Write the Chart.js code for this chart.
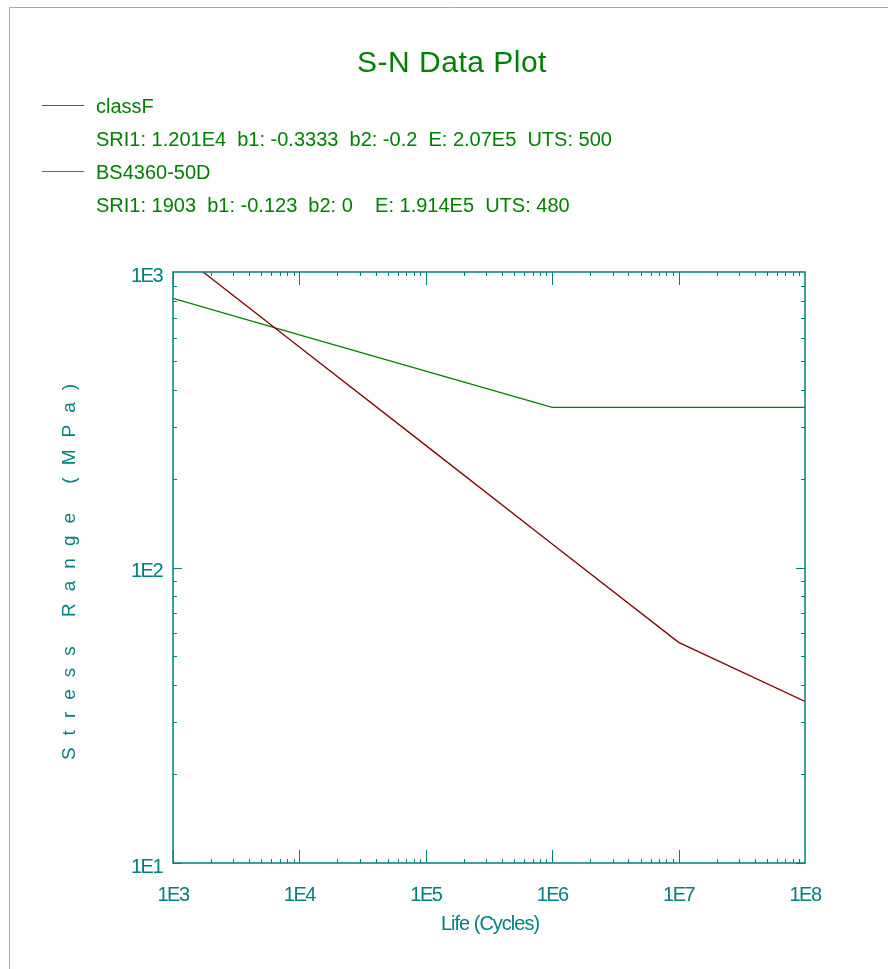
<!DOCTYPE html>
<html>
<head>
<meta charset="utf-8">
<style>
  html, body { margin: 0; padding: 0; background: #fff; }
  #wrap { position: relative; width: 888px; height: 969px; }
</style>
<script src="https://cdn.jsdelivr.net/npm/chart.js@4.4.0/dist/chart.umd.min.js"></script>
</head>
<body>
<div id="wrap"><canvas id="snChart" width="888" height="969"></canvas></div>
<script>
// Valeurs (cycles -> MPa)
const lifeClassF = [1000, 10000, 100000, 1000000, 10000000, 100000000];
const stressClassF = [1201, 557, 259, 120, 55.8, 35.2];
const lifeBS = [1000, 10000, 100000, 1000000, 10000000, 100000000];
const stressBS = [814, 613, 462, 348, 348, 348];

const xTicks = [1e3, 1e4, 1e5, 1e6, 1e7, 1e8];
const xTickLabels = ['1E3', '1E4', '1E5', '1E6', '1E7', '1E8'];
const yTicks = [10, 100, 1000];
const yTickLabels = ['1E1', '1E2', '1E3'];

const seriesNames = ['classF', 'BS4360-50D'];
const seriesInfo = [
    'SRI1: 1.201E4  b1: -0.3333  b2: -0.2  E: 2.07E5  UTS: 500',
    'SRI1: 1903  b1: -0.123  b2: 0    E: 1.914E5  UTS: 480'
];

const TEAL = '#008080';
const RED = '#800000';
const GREEN = '#008000';
const FONT = '"Liberation Sans", Arial, sans-serif';

const toPoints = (xs, ys) => xs.map((x, i) => ({ x: x, y: ys[i] }));

// Cadre, graduations et textes
const decorPlugin = {
    id: 'decor',
    beforeDraw(chart) {
        chart.ctx.letterSpacing = '-1.5px';
    },
    afterDraw(chart) {
        const ctx = chart.ctx;
        const a = chart.chartArea;
        const xs = chart.scales.x, ys = chart.scales.y;
        ctx.save();
        ctx.letterSpacing = '0px';

        // cadre de la page
        ctx.strokeStyle = '#70c0c0';
        ctx.lineWidth = 1;
        ctx.beginPath();
        ctx.moveTo(9.5, 969);
        ctx.lineTo(9.5, 7.5);
        ctx.lineTo(888, 7.5);
        ctx.stroke();

        // boite du graphique
        ctx.strokeStyle = TEAL;
        ctx.lineWidth = 1.5;
        ctx.strokeRect(a.left, a.top, a.right - a.left, a.bottom - a.top);

        ctx.lineWidth = 1;
        ctx.beginPath();
        for (let d = 1e3; d < 1e8; d *= 10) {
            for (let k = 1; k <= 9; k++) {
                const px = Math.round(xs.getPixelForValue(d * k)) + 0.5;
                const len = k === 1 ? 13 : 4;
                ctx.moveTo(px, a.bottom); ctx.lineTo(px, a.bottom - len);
                ctx.moveTo(px, a.top); ctx.lineTo(px, a.top + len);
            }
        }
        for (let d = 10; d < 1000; d *= 10) {
            for (let k = 1; k <= 9; k++) {
                const py = Math.round(ys.getPixelForValue(d * k)) + 0.5;
                const len = k === 1 ? 9 : 4;
                ctx.moveTo(a.left, py); ctx.lineTo(a.left + len, py);
                ctx.moveTo(a.right, py); ctx.lineTo(a.right - len, py);
            }
        }
        ctx.stroke();

        // titre
        ctx.fillStyle = GREEN;
        ctx.font = '30px ' + FONT;
        ctx.textAlign = 'center';
        ctx.textBaseline = 'middle';
        ctx.letterSpacing = '0.5px';
        ctx.fillText('S-N Data Plot', 452, 64);

        // légende
        const sampleColors = ['#b03030', '#209a20'];
        ctx.font = '20px ' + FONT;
        ctx.textAlign = 'left';
        ctx.letterSpacing = '0px';
        seriesNames.forEach((name, i) => {
            const y0 = 107 + i * 66;
            ctx.fillStyle = sampleColors[i];
            ctx.fillRect(42, y0 - 2, 42, 1);
            ctx.fillStyle = GREEN;
            ctx.fillText(name, 96, y0);
            ctx.fillText(seriesInfo[i], 96, y0 + 33);
        });

        // titres des axes
        ctx.fillStyle = TEAL;
        ctx.font = '20px ' + FONT;
        ctx.textAlign = 'center';
        ctx.letterSpacing = '-1px';
        ctx.fillText('Life (Cycles)', 490, 924);

        ctx.save();
        ctx.translate(70, 572);
        ctx.rotate(-Math.PI / 2);
        ctx.font = '19px ' + FONT;
        ctx.letterSpacing = '12px';
        ctx.fillText('Stress Range (MPa)', 6, 0);
        ctx.restore();

        ctx.restore();
    }
};

new Chart(document.getElementById('snChart'), {
    type: 'scatter',
    data: {
        datasets: [
            {
                label: seriesNames[0],
                data: toPoints(lifeClassF, stressClassF),
                showLine: true,
                borderColor: RED,
                borderWidth: 1.3,
                pointRadius: 0
            },
            {
                label: seriesNames[1],
                data: toPoints(lifeBS, stressBS),
                showLine: true,
                borderColor: GREEN,
                borderWidth: 1.3,
                pointRadius: 0
            }
        ]
    },
    options: {
        responsive: false,
        animation: false,
        events: [],
        layout: { padding: { left: 0, top: 272, right: 83, bottom: 0 } },
        plugins: {
            legend: { display: false },
            tooltip: { enabled: false }
        },
        scales: {
            x: {
                type: 'logarithmic',
                min: 1e3,
                max: 1e8,
                afterBuildTicks: s => { s.ticks = xTicks.map(v => ({ value: v })); },
                afterFit: s => { s.height = 106; },
                grid: { display: false, drawTicks: false },
                border: { display: false },
                ticks: {
                    color: TEAL,
                    padding: 20,
                    maxRotation: 0,
                    autoSkip: false,
                    font: { family: FONT, size: 20 },
                    callback: (v, i) => xTickLabels[i]
                }
            },
            y: {
                type: 'logarithmic',
                min: 10,
                max: 1000,
                afterBuildTicks: s => { s.ticks = yTicks.map(v => ({ value: v })); },
                afterFit: s => { s.width = 173; },
                grid: { display: false, drawTicks: false },
                border: { display: false },
                ticks: {
                    color: TEAL,
                    padding: 11,
                    labelOffset: 4,
                    autoSkip: false,
                    font: { family: FONT, size: 20 },
                    callback: (v, i) => yTickLabels[i]
                }
            }
        }
    },
    plugins: [decorPlugin]
});
</script>
</body>
</html>
